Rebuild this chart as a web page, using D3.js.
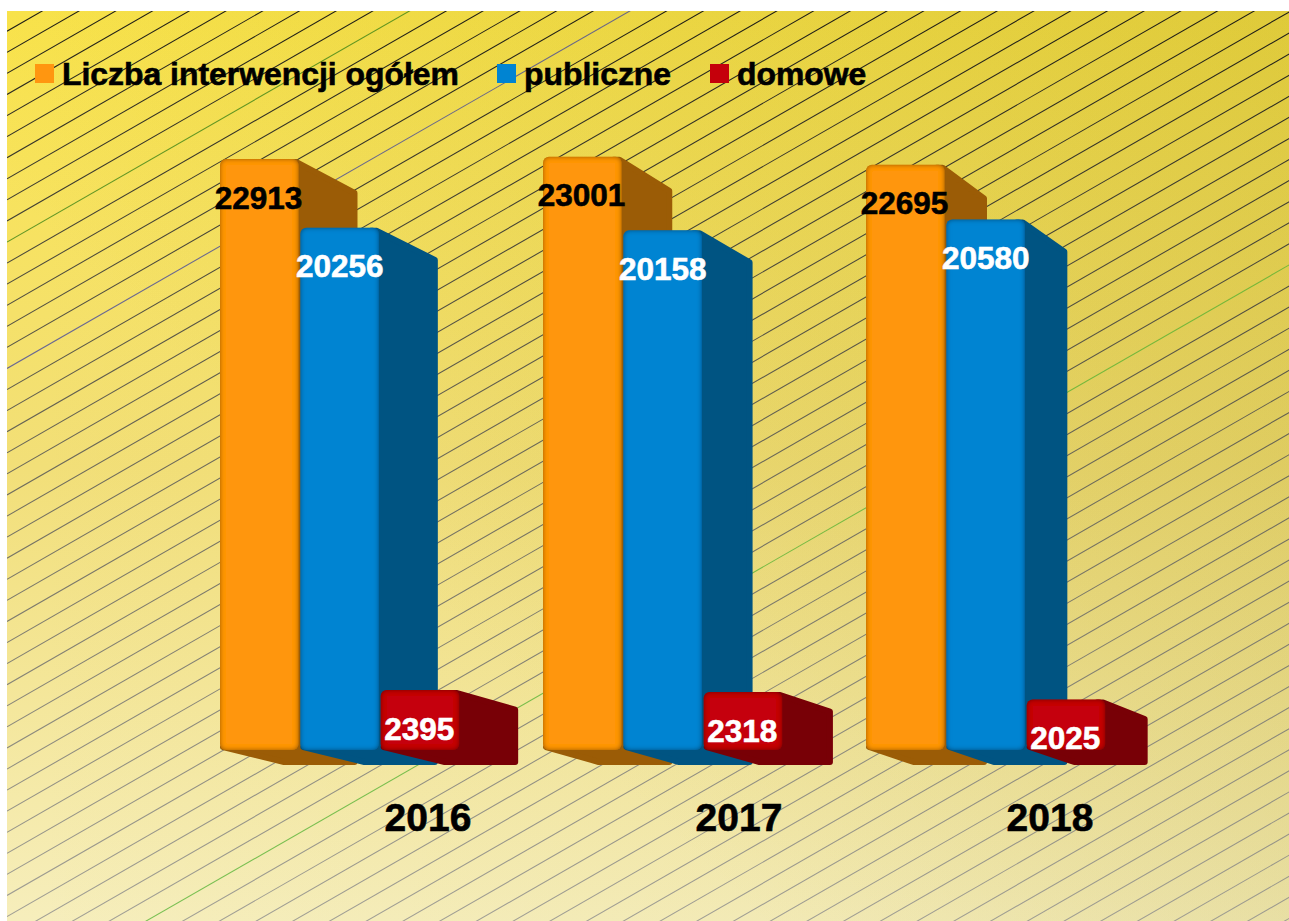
<!DOCTYPE html>
<html><head><meta charset="utf-8">
<script src="https://cdn.jsdelivr.net/npm/d3@7/dist/d3.min.js"></script>
<style>html,body{margin:0;padding:0;background:#fff;overflow:hidden}svg{display:block}text{font-family:"Liberation Sans",Arial,sans-serif;font-weight:bold}</style>
</head><body><script>
const years = ["2016","2017","2018"];
const seriesNames = ["Liczba interwencji ogółem","publiczne","domowe"];
const total = [22913,23001,22695];
const publiczne = [20256,20158,20580];
const domowe = [2395,2318,2025];
const seriesValues = [total,publiczne,domowe];
const frontColors = ["#ff9610","#0084d2","#c5000b"];
const sideColors = ["#9b5c06","#005482","#780006"];
const labelColors = ["#000","#fff","#fff"];
const legendX = [35,497,710];

const W=1289,H=921;
const svg=d3.select("body").append("svg").attr("width",W).attr("height",H);
const defs=svg.append("defs");
const vg=defs.append("linearGradient").attr("id","bgV").attr("x1",0).attr("y1",0).attr("x2",0).attr("y2",1);
[[0,"#fbe54c"],[.5,"#f2df78"],[1,"#f6eebc"]].forEach(d=>vg.append("stop").attr("offset",d[0]).attr("stop-color",d[1]));
const hg=defs.append("linearGradient").attr("id","bgH").attr("x1",.25).attr("y1",.55).attr("x2",1).attr("y2",0);
hg.append("stop").attr("offset",0).attr("stop-color","#8a7a00").attr("stop-opacity",0);
hg.append("stop").attr("offset",1).attr("stop-color","#8a7a00").attr("stop-opacity",.2);
const hg2=defs.append("linearGradient").attr("id","bgH2").attr("x1",0).attr("y1",0).attr("x2",1).attr("y2",0);
hg2.append("stop").attr("offset",0).attr("stop-color","#8a7a00").attr("stop-opacity",0);
hg2.append("stop").attr("offset",1).attr("stop-color","#8a7a00").attr("stop-opacity",.06);
const lg=defs.append("linearGradient").attr("id","lineG").attr("gradientUnits","userSpaceOnUse").attr("x1",0).attr("y1",11).attr("x2",0).attr("y2",921);
[[0,"#111",.95],[.5,"#555",.85],[1,"#8c8c8c",.8]].forEach(d=>lg.append("stop").attr("offset",d[0]).attr("stop-color",d[1]).attr("stop-opacity",d[2]));
const f=defs.append("filter").attr("id","bevel").attr("x","-10%").attr("y","-10%").attr("width","120%").attr("height","120%");
f.append("feFlood").attr("flood-color","#000").attr("flood-opacity",.8).attr("result","fl");
f.append("feComposite").attr("in","fl").attr("in2","SourceAlpha").attr("operator","out").attr("result","outer");
f.append("feGaussianBlur").attr("in","outer").attr("stdDeviation",2.4).attr("result","bl");
f.append("feComposite").attr("in","bl").attr("in2","SourceAlpha").attr("operator","in").attr("result","inner");
const fm=f.append("feMerge");fm.append("feMergeNode").attr("in","SourceGraphic");fm.append("feMergeNode").attr("in","inner");
defs.append("clipPath").attr("id","bgClip").append("rect").attr("x",7).attr("y",11).attr("width",W-7).attr("height",H-11);

["bgV","bgH","bgH2"].forEach(id=>svg.append("rect").attr("x",7).attr("y",11).attr("width",W-7).attr("height",H-11).attr("fill",`url(#${id})`));

// background hatching
const slope=0.574, spacing=21.08, y0=31.2;
const accents=new Map([[10,"#2f7d12"],[16,"#3a3fa0"],[46,"#4fb030"]]);
const lines=svg.append("g").attr("clip-path","url(#bgClip)");
d3.range(-1,106).forEach(k=>{
  const ya=y0+k*spacing;
  lines.append("path").attr("d",`M7,${ya}L${W+1},${ya-(W-6)*slope}`)
    .attr("fill","none").attr("stroke",accents.get(k)||"url(#lineG)").attr("stroke-width",1.05)
    .attr("stroke-opacity",accents.has(k)?.75:1);
});

const y=d3.scaleLinear().domain([0,23000]).range([752,156.8]);
const gx=d3.scalePoint().domain(years).range([220,866]);
const sx=d3.scaleBand().domain(d3.range(3)).range([0,241]);
const yearX=d3.scalePoint().domain(years).range([428,1050]);
const depth=d3.scaleLinear().domain([220,866]).range([59,42.5]);
const floorY=y(0)-2;
const back=v=>v+15+(750-v)*0.027;
const barW=78.5, r=3;

years.forEach((yr,i)=>{
  const dx=depth(gx(yr));
  seriesValues.forEach((vals,s)=>{
    const x0=gx(yr)+sx(s), x1=x0+barW, top=y(vals[i]);
    const line=d3.line().curve(d3.curveLinearClosed);
    svg.append("path").attr("d",line([
        [x1-8,top+r],[x1-2,top+r],[x1+dx-r,back(top)+r],[x1+dx-r,back(floorY)-r],
        [x0+dx+5,back(floorY)-r],[x0+r,floorY-r],[x1-8,floorY-r]]))
      .attr("fill",sideColors[s]).attr("stroke",sideColors[s]).attr("stroke-width",2*r).attr("stroke-linejoin","round");
    svg.append("rect").attr("x",x0).attr("y",top).attr("width",barW).attr("height",floorY-top).attr("rx",6)
      .attr("fill",frontColors[s]).attr("filter","url(#bevel)");
  });
});
years.forEach((yr,i)=>{
  seriesValues.forEach((vals,s)=>{
    svg.append("text").attr("x",gx(yr)+sx(s)+38.5+(s==1?1:0)).attr("y",y(vals[i])+49.5).attr("text-anchor","middle")
      .attr("font-size",31.5).attr("fill",labelColors[s]).attr("stroke",labelColors[s]).attr("stroke-width",.6).text(vals[i]);
  });
  svg.append("text").attr("x",yearX(yr)).attr("y",831).attr("text-anchor","middle").attr("font-size",39)
    .attr("fill","#000").attr("stroke","#000").attr("stroke-width",.6).text(yr);
});
seriesNames.forEach((n,s)=>{
  svg.append("rect").attr("x",legendX[s]).attr("y",64).attr("width",19).attr("height",19).attr("fill",frontColors[s]);
  svg.append("text").attr("x",legendX[s]+27).attr("y",85).attr("font-size",31.9).attr("fill","#000")
    .attr("stroke","#000").attr("stroke-width",.6).text(n);
});
</script></body></html>
